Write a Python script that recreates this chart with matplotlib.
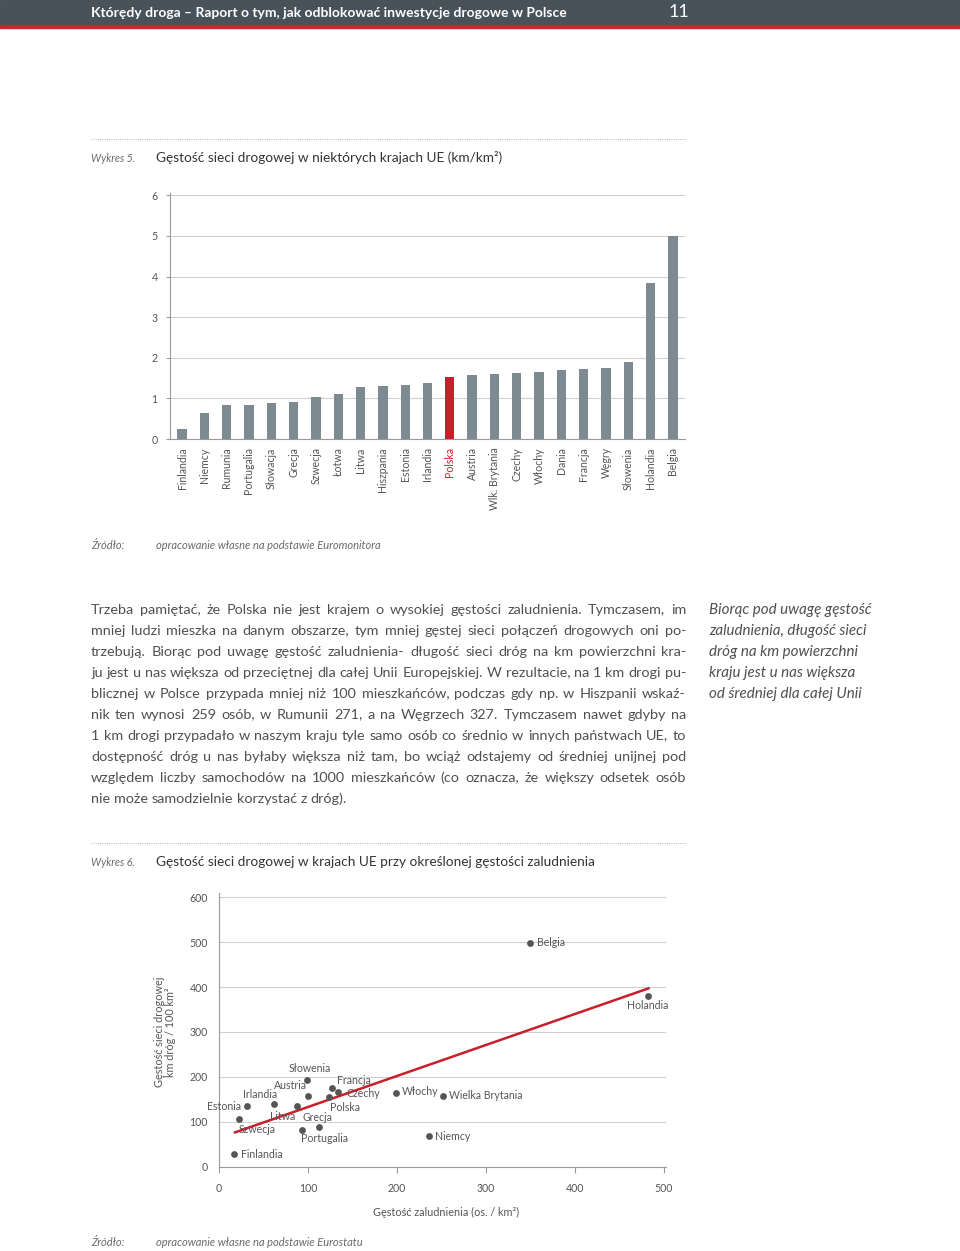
import math
import matplotlib
matplotlib.use("Agg")
import matplotlib.pyplot as plt
from matplotlib.backends.backend_agg import get_hinting_flag
from matplotlib.lines import Line2D
from matplotlib.patches import Rectangle

W, H = 960, 1251

# Wykres 5 - gestosc sieci drogowej (km/km2)
countries5 = ["Finlandia", "Niemcy", "Rumunia", "Portugalia", "Słowacja", "Grecja",
              "Szwecja", "Łotwa", "Litwa", "Hiszpania", "Estonia", "Irlandia",
              "Polska", "Austria", "Wlk. Brytania", "Czechy", "Włochy", "Dania",
              "Francja", "Węgry", "Słowenia", "Holandia", "Belgia"]
density5 = [0.25, 0.64, 0.83, 0.84, 0.89, 0.90, 1.03, 1.12, 1.27, 1.30, 1.33, 1.39,
            1.53, 1.58, 1.59, 1.63, 1.64, 1.70, 1.73, 1.75, 1.90, 3.84, 5.00]
yticks5 = [0, 1, 2, 3, 4, 5, 6]

# Wykres 6 - gestosc zaludnienia vs gestosc drog
countries6 = ["Belgia", "Holandia", "Słowenia", "Francja", "Czechy", "Polska", "Austria",
              "Irlandia", "Estonia", "Litwa", "Grecja", "Szwecja", "Portugalia",
              "Finlandia", "Włochy", "Wielka Brytania", "Niemcy"]
pop_density = [350, 482, 99, 127, 134, 124, 100, 62, 31, 88, 112, 22, 93, 17, 199, 252, 236]
road_density = [498, 380, 193, 176, 165, 155, 158, 140, 134, 134, 88, 105, 82, 27, 164, 158, 67]
trend_x = [18, 483]
trend_y = [76, 397]
xticks6 = [0, 100, 200, 300, 400, 500]
yticks6 = [0, 100, 200, 300, 400, 500, 600]

# label placement (pixels from the point, horizontal alignment)
label_pos = {
    "Belgia": (7, 1, "left"), "Holandia": (0, -9, "center"), "Słowenia": (3, 11, "center"),
    "Francja": (5, 7, "left"), "Czechy": (8, -1, "left"), "Polska": (1, -11, "left"),
    "Austria": (-1, 10, "right"), "Irlandia": (3, 9, "right"), "Estonia": (-6, 0, "right"),
    "Litwa": (-2, -10, "right"), "Grecja": (-1, 10, "center"), "Szwecja": (0, -10, "left"),
    "Portugalia": (-1, -9, "left"), "Finlandia": (7, 0, "left"), "Włochy": (6, 1, "left"),
    "Wielka Brytania": (6, 0, "left"), "Niemcy": (6, 0, "left"),
}

header = "Którędy droga – Raport o tym, jak odblokować inwestycje drogowe w Polsce"
page_no = "11"
title5 = "Gęstość sieci drogowej w niektórych krajach UE (km/km²)"
title6 = "Gęstość sieci drogowej w krajach UE przy określonej gęstości zaludnienia"
source5 = "opracowanie własne na podstawie Euromonitora"
source6 = "opracowanie własne na podstawie Eurostatu"

body_lines = [
    "Trzeba pamiętać, że Polska nie jest krajem o wysokiej gęstości zaludnienia. Tymczasem, im",
    "mniej ludzi mieszka na danym obszarze, tym mniej gęstej sieci połączeń drogowych oni po-",
    "trzebują. Biorąc pod uwagę gęstość zaludnienia- długość sieci dróg na km powierzchni kra-",
    "ju jest u nas większa od przeciętnej dla całej Unii Europejskiej. W rezultacie, na 1 km drogi pu-",
    "blicznej w Polsce przypada mniej niż 100 mieszkańców, podczas gdy np. w Hiszpanii wskaź-",
    "nik ten wynosi 259 osób, w Rumunii 271, a na Węgrzech 327. Tymczasem nawet gdyby na",
    "1 km drogi przypadało w naszym kraju tyle samo osób co średnio w innych państwach UE, to",
    "dostępność dróg u nas byłaby większa niż tam, bo wciąż odstajemy od średniej unijnej pod",
    "względem liczby samochodów na 1000 mieszkańców (co oznacza, że większy odsetek osób",
    "nie może samodzielnie korzystać z dróg).",
]
side_lines = [
    "Biorąc pod uwagę gęstość",
    "zaludnienia, długość sieci",
    "dróg na km powierzchni",
    "kraju jest u nas większa",
    "od średniej dla całej Unii",
]

GREY_BAR = "#7e8a91"
RED = "#c8202a"
TXT = "#505050"
LIGHT = "#6a6a6a"
GRID = "#cfcfcf"
SPINE = "#9a9a9a"

plt.rcParams["font.family"] = ["Lato", "DejaVu Sans"]

fig = plt.figure(figsize=(W / 100, H / 100), dpi=100)
renderer = fig.canvas.get_renderer()


def fx(x):
    return x / W


def fy(y):
    return 1 - y / H


def put(x, y, s, **kw):
    kw.setdefault("va", "center")
    return fig.text(fx(x), fy(y), s, **kw)


def text_width(s, size):
    t = put(0, 0, s, fontsize=size)
    w = t.get_window_extent(renderer).width
    t.remove()
    return w


def baseline_error(t):
    # Agg rounds each string's bitmap on its own, so single words can sit
    # one pixel off the common baseline; work out that pixel here
    try:
        font = renderer._prepare_font(t.get_fontproperties())
        font.set_text(t.get_text(), 0.0, flags=get_hinting_flag())
        d = font.get_descent() / 64.0
        a = font.get_width_height()[1] / 64.0 - d
        return round(d) - math.floor(a + d) + math.floor(a)
    except Exception:
        return 0


def dotted(y, x0=91, x1=686):
    fig.add_artist(Line2D([fx(x0), fx(x1)], [fy(y), fy(y)], color="#9a9a9a",
                          lw=0.8, linestyle=(0, (0.6, 1.4)), transform=fig.transFigure))


# header band
fig.add_artist(Rectangle((0, fy(25)), 1, 25 / H, color="#48525a", transform=fig.transFigure))
fig.add_artist(Rectangle((0, fy(28)), 1, 3 / H, color="#c9252c", transform=fig.transFigure))
put(91, 13, header, color="white", fontsize=10, weight="bold")
put(669, 12, page_no, color="white", fontsize=13)

# ---- Wykres 5 ----
dotted(139)
put(91, 159, "Wykres 5.", fontsize=7.7, style="italic", color=LIGHT)
put(156, 158, title5, fontsize=9.8, color="#333333")

top5 = 193
ax1 = fig.add_axes([fx(170), fy(439), (685 - 170) / W, (439 - top5) / H])
xpos = list(range(len(countries5)))
colors = [RED if c == "Polska" else GREY_BAR for c in countries5]
ax1.bar(xpos, density5, width=0.42, color=colors, zorder=3)
ax1.set_xlim(-0.54, len(countries5) - 0.46)
ax1.set_ylim(0, (439 - top5) / 40.6)
ax1.set_yticks(yticks5)
for v in yticks5[1:]:
    ax1.axhline(v, color=GRID, lw=0.8, zorder=1)
ax1.set_xticks(xpos)
ax1.set_xticklabels(countries5, rotation=90, fontsize=7.6, color="#555555", va="top")
ax1.get_xticklabels()[countries5.index("Polska")].set_color(RED)
ax1.tick_params(axis="x", length=0, pad=6)
ax1.tick_params(axis="y", length=3, color=SPINE, labelsize=7.6, labelcolor="#555555", pad=6)
for s in ["top", "right"]:
    ax1.spines[s].set_visible(False)
for s in ["left", "bottom"]:
    ax1.spines[s].set_color(SPINE)
    ax1.spines[s].set_linewidth(0.8)

put(91, 546, "Źródło:", fontsize=8, style="italic", color=LIGHT)
put(156, 546, source5, fontsize=8, style="italic", color=LIGHT)

# ---- body text, justified word by word ----
x_left, x_right = 91, 686
longest = max(body_lines, key=len)
body_size = 10 * (x_right - x_left) / text_width(longest, 10) * 0.995

for i, line in enumerate(body_lines):
    y = 614 + 21 * i
    words = line.split(" ")
    texts = []
    for w in words:
        t = put(x_left, y, w, fontsize=body_size, color=TXT, va="baseline")
        t.set_y(fy(y - baseline_error(t)))
        texts.append(t)
    widths = [t.get_window_extent(renderer).width for t in texts]
    if i < len(body_lines) - 1:
        gap = (x_right - x_left - sum(widths)) / (len(words) - 1)
    else:
        gap = text_width("n n", body_size) - text_width("nn", body_size)
    x = x_left
    for t, wd in zip(texts, widths):
        t.set_x(fx(x))
        x += wd + gap

for i, line in enumerate(side_lines):
    put(709, 614 + 21 * i, line, fontsize=body_size * 1.05, style="italic", color=TXT,
        va="baseline")

# ---- Wykres 6 ----
dotted(843)
put(91, 863, "Wykres 6.", fontsize=7.7, style="italic", color=LIGHT)
put(156, 862, title6, fontsize=9.8, color="#333333")

x0px, x500px = 219, 663.6
y0px, y600px = 1166.5, 897.3
ax_right, ax_top = 666, 893
xmax = 500 * (ax_right - x0px) / (x500px - x0px)
ymax = 600 * (y0px - ax_top) / (y0px - y600px)
ax2 = fig.add_axes([fx(x0px), fy(y0px), (ax_right - x0px) / W, (y0px - ax_top) / H])
ax2.set_xlim(0, xmax)
ax2.set_ylim(0, ymax)
for v in yticks6[1:]:
    ax2.axhline(v, color=GRID, lw=0.8, zorder=1)
ax2.plot(trend_x, trend_y, color=RED, lw=1.8, zorder=3)
ax2.scatter(pop_density, road_density, s=24, color="#555555", zorder=4, linewidths=0)
for name, px, py in zip(countries6, pop_density, road_density):
    dx, dy, ha = label_pos[name]
    ax2.annotate(name, (px, py), xytext=(dx, dy), textcoords="offset pixels",
                 ha=ha, va="center", fontsize=7.6, color="#555555", zorder=5)
ax2.set_xticks(xticks6)
ax2.set_yticks(yticks6)
ax2.tick_params(axis="x", length=4, color=SPINE, labelsize=7.6, labelcolor="#555555", pad=8)
ax2.tick_params(axis="y", length=0, labelsize=7.6, labelcolor="#555555", pad=8)
for s in ["top", "right"]:
    ax2.spines[s].set_visible(False)
for s in ["left", "bottom"]:
    ax2.spines[s].set_color(SPINE)
    ax2.spines[s].set_linewidth(0.8)

put(446, 1212, "Gęstość zaludnienia (os. / km²)", fontsize=7.8, color="#555555", ha="center")
put(165, 1032, "Gęstość sieci drogowej\nkm dróg / 100 km²", fontsize=7.8, color="#555555",
    ha="center", rotation=90, linespacing=1.0)

put(91, 1242, "Źródło:", fontsize=8, style="italic", color=LIGHT)
put(156, 1242, source6, fontsize=8, style="italic", color=LIGHT)

fig.savefig("out.png", dpi=100, facecolor="white")
